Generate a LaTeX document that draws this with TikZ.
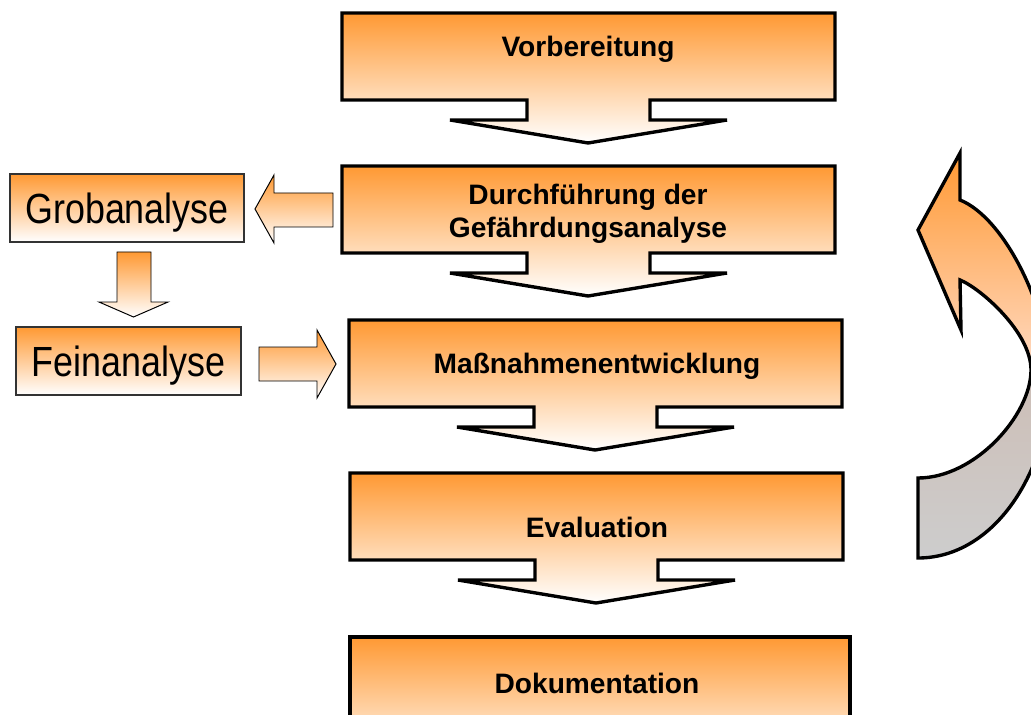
\documentclass[tikz,border=0pt]{standalone}
\usepackage{fontspec}
\setmainfont{Liberation Sans}
\newfontfamily\narrowfont[FakeStretch=0.85]{Liberation Sans}

\definecolor{boxorange}{RGB}{255,153,51}
\definecolor{looppeach}{RGB}{255,218,195}
\definecolor{looptan}{RGB}{205,190,182}
\definecolor{loopgrey}{RGB}{205,205,205}
\pgfdeclareverticalshading{loopshade}{100bp}{color(0bp)=(loopgrey); color(25bp)=(loopgrey); color(47.8bp)=(looptan); color(48.2bp)=(looppeach); color(75bp)=(boxorange); color(100bp)=(boxorange)}

\tikzset{
  stepfill/.style={top color=boxorange, bottom color=white, draw=black, line width=2.4pt},
  steptext/.style={font=\bfseries\fontsize{20}{23.4}\selectfont, inner sep=0pt},
  smallbox/.style={draw=black!80, line width=0.8pt, top color=boxorange, bottom color=white,
    inner sep=0pt, text depth=0pt, minimum height=1.7cm, font=\narrowfont\fontsize{30}{36}\selectfont},
  blockarrow/.style={top color=boxorange, bottom color=white, draw=black, line width=0.7pt}
}

% box with a down arrow below it, #1 = left, #2 = top (pixels)
\newcommand{\stepshape}[2]{%
  \path[stepfill] (#1,#2) -- ++(493,0) -- ++(0,87) -- ++(-185,0) -- ++(0,20) -- ++(77,0)
    -- ++(-139,23) -- ++(-138,-23) -- ++(77,0) -- ++(0,-20) -- ++(-185,0) -- cycle;}

\begin{document}
\begin{tikzpicture}[x=0.025cm,y=-0.025cm]
    \clip (0,0) rectangle (1031,715);

    % main steps
    \stepshape{342}{13}
    \stepshape{342}{166}
    \stepshape{349}{320}
    \stepshape{350}{473}
    \path[stepfill] (350,637) rectangle (850,767);

    \node[steptext, anchor=base] (vorb) at (588,57) {Vorbereitung};
    \node[steptext, align=center] (durch) at (588,214) {Durchführung der\\Gefährdungsanalyse};
    \node[steptext, anchor=base] (mass) at (597,373) {Maßnahmenentwicklung};
    \node[steptext, anchor=base] (eval) at (597,537) {Evaluation};
    \node[steptext, anchor=base] (doku) at (597,693) {Dokumentation};

    % analysis boxes
    \node[smallbox, minimum width=5.85cm] (grob) at (127,208) {Grobanalyse};
    \node[smallbox, minimum width=5.625cm] (fein) at (128.5,361) {Feinanalyse};

    % block arrows
    \path[blockarrow] (333,193) -- (274,193) -- (274,175) -- (255,209) -- (274,243) -- (274,227) -- (333,227) -- cycle;
    \path[blockarrow] (117,252) -- (151,252) -- (151,302) -- (168,302) -- (133.5,317) -- (99,302) -- (117,302) -- cycle;
    \path[blockarrow] (259,347) -- (317,347) -- (317,330) -- (336,364) -- (317,398) -- (317,381) -- (259,381) -- cycle;

    % loop back
    \path[shade, shading=loopshade, draw=black, line width=2.4pt]
        (918,230) -- (960,153) -- (960,200)
        .. controls (1005,218) and (1050,310) .. (1050,380)
        .. controls (1050,470) and (995,558) .. (918,558) -- (918,478)
        .. controls (975,478) and (1031,415) .. (1031,370)
        .. controls (1031,332) and (980,288) .. (960,280) -- (961,330) -- cycle;
\end{tikzpicture}
\end{document}
